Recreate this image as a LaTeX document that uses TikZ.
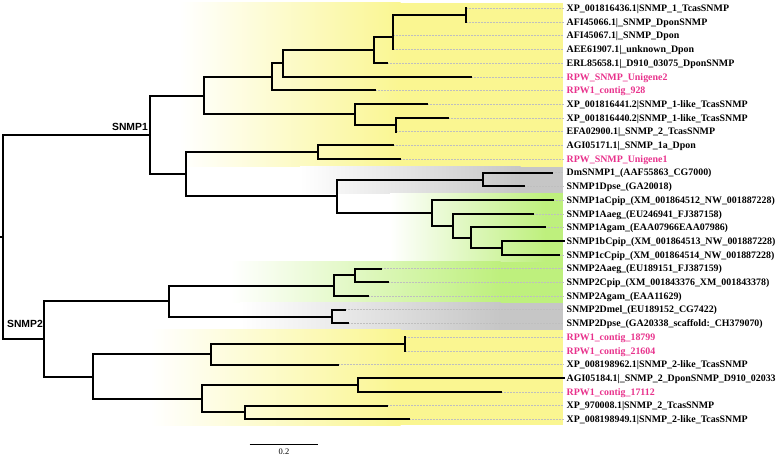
\documentclass[tikz,border=0pt]{standalone}
\usepackage{fontspec}
\setmainfont{Liberation Serif}
\newfontfamily\lsans{Liberation Sans}
\definecolor{yel}{RGB}{250,246,145}
\definecolor{grn}{RGB}{190,240,125}
\definecolor{gry}{RGB}{198,198,198}
\definecolor{pnk}{RGB}{232,50,140}
\tikzset{
  branch/.style={line width=2bp,draw=black,line cap=rect},
  guide/.style={line width=0.5bp,gray!50,dash pattern=on 2bp off 1bp},
  lab/.style={anchor=base west,inner xsep=3bp,inner ysep=0pt,font=\fontsize{9.95}{11}\selectfont\bfseries},
  clade/.style={anchor=base east,inner sep=0pt,font=\lsans\fontsize{10.4}{12}\selectfont\bfseries},
  band/.style={draw=none}
}
\begin{document}
\begin{tikzpicture}[x=1bp,y=-1bp]
\useasboundingbox (0,0) rectangle (778,455);
% background bands
\shade[band,left color=white,right color=yel] (180,3) rectangle (400.5,166.7);
\fill[yel] (400,3) rectangle (563,166.7);
\shade[band,left color=white,right color=gry] (300,166.7) rectangle (520.5,193.3);
\fill[gry] (520,166.7) rectangle (563,193.3);
\shade[band,left color=white,right color=grn] (390,193.3) rectangle (545.5,262);
\fill[grn] (545,193.3) rectangle (563,262);
\shade[band,left color=white,right color=grn] (230,262) rectangle (500.5,302.7);
\fill[grn] (500,262) rectangle (563,302.7);
\shade[band,left color=white,right color=gry] (240,302.7) rectangle (500.5,330);
\fill[gry] (500,302.7) rectangle (563,330);
\shade[band,left color=white,right color=yel] (150,330) rectangle (400.5,425);
\fill[yel] (400,330) rectangle (563,425);

% leaves: tips, labels, guides
\foreach \i/\tx/\tc/\txt in {
 1/465.7/black/{XP\_001816436.1|SNMP\_1\_TcasSNMP},
 2/465.7/black/{AFI45066.1|\_SNMP\_DponSNMP},
 3/392.7/black/{AFI45067.1|\_SNMP\_Dpon},
 4/392.7/black/{AEE61907.1|\_unknown\_Dpon},
 5/387.3/black/{ERL85658.1|\_D910\_03075\_DponSNMP},
 6/470.5/pnk/{RPW\_SNMP\_Unigene2},
 7/375/pnk/{RPW1\_contig\_928},
 8/427/black/{XP\_001816441.2|SNMP\_1-like\_TcasSNMP},
 9/447.5/black/{XP\_001816440.2|SNMP\_1-like\_TcasSNMP},
 10/395.5/black/{EFA02900.1|\_SNMP\_2\_TcasSNMP},
 11/392.7/black/{AGI05171.1|\_SNMP\_1a\_Dpon},
 12/400/pnk/{RPW\_SNMP\_Unigene1},
 13/552/black/{DmSNMP1\_(AAF55863\_CG7000)},
 14/524/black/{SNMP1Dpse\_(GA20018)},
 15/553.3/black/{SNMP1aCpip\_(XM\_001864512\_NW\_001887228)},
 16/533.3/black/{SNMP1Aaeg\_(EU246941\_FJ387158)},
 17/545/black/{SNMP1Agam\_(EAA07966EAA07986)},
 18/563.5/black/{SNMP1bCpip\_(XM\_001864513\_NW\_001887228)},
 19/559/black/{SNMP1cCpip\_(XM\_001864514\_NW\_001887228)},
 20/381/black/{SNMP2Aaeg\_(EU189151\_FJ387159)},
 21/387.5/black/{SNMP2Cpip\_(XM\_001843376\_XM\_001843378)},
 22/368/black/{SNMP2Agam\_(EAA11629)},
 23/344.6/black/{SNMP2Dmel\_(EU189152\_CG7422)},
 24/348.2/black/{SNMP2Dpse\_(GA20338\_scaffold:\_CH379070)},
 25/404.5/pnk/{RPW1\_contig\_18799},
 26/404.5/pnk/{RPW1\_contig\_21604},
 27/337.5/black/{XP\_008198962.1|SNMP\_2-like\_TcasSNMP},
 28/563.5/black/{AGI05184.1|\_SNMP\_2\_DponSNMP\_D910\_02033},
 29/501/pnk/{RPW1\_contig\_17112},
 30/387.3/black/{XP\_970008.1|SNMP\_2\_TcasSNMP},
 31/409.3/black/{XP\_008198949.1|SNMP\_2-like\_TcasSNMP}}{
  \pgfmathsetmacro\yy{8.3+13.7*(\i-1)}
  \coordinate (t\i) at (\tx,\yy);
  \node[lab,text=\tc] (l\i) at (563.5,\yy+3.3) {\txt};
  \draw[guide] (t\i) -- (t\i -| l\i.west);
}

% internal nodes
\coordinate (rt) at (3,236.9);
\coordinate (rstub) at (0,236.9);
\coordinate (sa) at (150,135);
\coordinate (sb) at (43.5,338.8);
\coordinate (kA) at (204.3,95.75);
\coordinate (kB) at (272.3,77);
\coordinate (kC) at (283.3,63.5);
\coordinate (kD) at (374,50.25);
\coordinate (kE) at (392.7,37.4);
\coordinate (kF) at (465.7,15.15);
\coordinate (kG) at (355,114.5);
\coordinate (kH) at (395.5,124.75);
\coordinate (kJ) at (185.7,174.2);
\coordinate (kI) at (317.5,152.15);
\coordinate (kL) at (336.7,196.25);
\coordinate (kM) at (483,179.55);
\coordinate (kN) at (432.3,212.95);
\coordinate (kO) at (453.3,225.8);
\coordinate (kP) at (471,237.8);
\coordinate (kQ) at (501.7,248.05);
\coordinate (kR) at (169,301.1);
\coordinate (kS) at (334,285.7);
\coordinate (kT) at (354.6,275.45);
\coordinate (kU) at (332,316.55);
\coordinate (kV) at (92.5,376.5);
\coordinate (kW) at (211.2,354.2);
\coordinate (kX) at (404.5,343.95);
\coordinate (kY) at (201.8,398.75);
\coordinate (kZ) at (357.5,385.05);
\coordinate (kAA) at (244.6,412.45);

% branches
\draw[branch] (rstub) -- (rt);
\draw[branch] (rt) |- (sa);
\draw[branch] (rt) |- (sb);
\draw[branch] (sa) |- (kA);
\draw[branch] (sa) |- (kJ);
\draw[branch] (sb) |- (kR);
\draw[branch] (sb) |- (kV);
\foreach \pa/\ch in {kA/kB,kA/kG,kB/kC,kB/t7,kC/kD,kC/t6,kD/kE,kD/t5,
  kE/kF,kE/t3,kE/t4,kF/t1,kF/t2,kG/t8,kG/kH,kH/t9,kH/t10,kJ/kI,kJ/kL,kI/t11,kI/t12,kL/kM,kL/kN,
  kM/t13,kM/t14,kN/t15,kN/kO,kO/t16,kO/kP,kP/t17,kP/kQ,kQ/t18,kQ/t19,
  kR/kS,kR/kU,kS/kT,kS/t22,kT/t20,kT/t21,kU/t23,kU/t24,kV/kW,kV/kY,kW/kX,kW/t27,
  kX/t25,kX/t26,kY/kZ,kY/kAA,kZ/t28,kZ/t29,kAA/t30,kAA/t31}{
  \draw[branch] (\pa) |- (\ch);
}

% clade labels
\node[clade] (s1) at (148,130.5) {SNMP1};
\node[clade] (s2) at (43,327.5) {SNMP2};

% scale bar
\coordinate (sb1) at (249.5,444.3);
\coordinate (sb2) at (318.3,444.3);
\draw[line width=0.8bp] (sb1) -- (sb2);
\node[anchor=base,inner sep=0pt,font=\fontsize{8.5}{10}\selectfont] (sbl) at (284,454) {0.2};
\end{tikzpicture}
\end{document}
